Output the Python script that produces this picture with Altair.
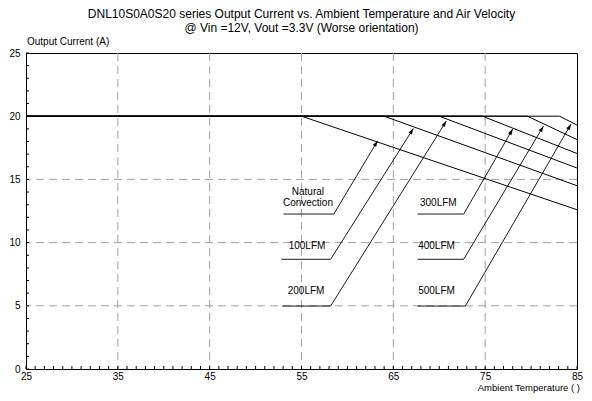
import math
import altair as alt
import pandas as pd

# ---------------- data ----------------
series = ["Natural Convection", "100LFM", "200LFM", "300LFM", "400LFM", "500LFM"]
derate_start = [55.0, 64.0, 70.0, 74.7, 79.6, 83.1]      # temperature where derating starts
current_at_85 = [12.6, 14.5, 15.9, 17.05, 18.15, 19.3]   # output current at 85 C
max_current = 20.0
t_min, t_max = 25, 85
i_min, i_max = 0, 25

# annotation labels and leader lines
label_text = ["Natural", "Convection", "100LFM", "200LFM", "300LFM", "400LFM", "500LFM"]
label_t = [55.7, 55.7, 55.6, 55.5, 69.9, 69.7, 69.7]
label_i = [13.98, 13.11, 9.75, 6.19, 13.16, 9.75, 6.19]
leader_left = [53.05, 52.8, 52.9, 67.64, 67.64, 67.64]
leader_right = [58.52, 58.17, 58.17, 72.66, 72.66, 72.84]
leader_level = [12.26, 8.68, 4.98, 12.26, 8.68, 4.98]
tip_t = [63.28, 67.18, 70.77, 78.0, 81.35, 84.35]
tip_i = [18.04, 19.03, 19.62, 18.99, 19.22, 19.38]

x_labels = [25, 35, 45, 55, 65, 75, 85]
y_labels = [0, 5, 10, 15, 20, 25]
x_grid = [35, 45, 55, 65, 75]
y_grid = [5, 10, 15]
x_minor = list(range(25, 86))
y_minor = list(range(0, 26))

title_lines = ["DNL10S0A0S20 series Output Current vs. Ambient Temperature and Air Velocity",
               "@ Vin =12V, Vout =3.3V (Worse orientation)"]
y_title = "Output Current (A)"
x_title = "Ambient Temperature (   )"

# ---------------- layout ----------------
W, H = 551, 316
FONT = "Liberation Sans"

# ---------------- tables ----------------
curve_rows = []
for s, ts, ie in zip(series, derate_start, current_at_85):
    curve_rows += [
        {"series": s, "k": 0, "T": t_min, "I": max_current},
        {"series": s, "k": 1, "T": ts, "I": max_current},
        {"series": s, "k": 2, "T": t_max, "I": ie},
    ]
curves = pd.DataFrame(curve_rows)

leader_rows, head_rows = [], []
px_t = W / (t_max - t_min)
px_i = H / (i_max - i_min)
for s, l, r, lv, tt, ti in zip(series, leader_left, leader_right, leader_level, tip_t, tip_i):
    leader_rows += [
        {"series": s, "k": 0, "T": l, "I": lv},
        {"series": s, "k": 1, "T": r, "I": lv},
        {"series": s, "k": 2, "T": tt, "I": ti},
    ]
    dx = (tt - r) * px_t
    dy = (ti - lv) * px_i
    ang = math.degrees(math.atan2(dx, dy)) % 360
    head_rows.append({"series": s, "T": tt, "I": ti, "angle": ang})
leaders = pd.DataFrame(leader_rows)
heads = pd.DataFrame(head_rows)
labels = pd.DataFrame({"text": label_text, "T": label_t, "I": label_i})

xs = alt.Scale(domain=[t_min, t_max], nice=False, zero=False)
ys = alt.Scale(domain=[i_min, i_max], nice=False, zero=False)
X = alt.X("T:Q", scale=xs, title=None,
          axis=alt.Axis(values=x_labels, labelPadding=2, format="d", labelFlush=False))
Y = alt.Y("I:Q", scale=ys, title=None,
          axis=alt.Axis(values=y_labels, labelPadding=6, format="d", labelFlush=False))

grid_x = alt.Chart(pd.DataFrame({"T": x_grid})).mark_rule(
    color="#a0a0a0", strokeDash=[8, 5], strokeWidth=1).encode(x=X)
grid_y = alt.Chart(pd.DataFrame({"I": y_grid})).mark_rule(
    color="#a0a0a0", strokeDash=[8, 5], strokeWidth=1).encode(y=Y)

ticks_x = alt.Chart(pd.DataFrame({"T": x_minor})).mark_rule(
    color="black", strokeWidth=1).encode(x="T:Q", y=alt.value(H), y2=alt.value(H - 3))
ticks_y = alt.Chart(pd.DataFrame({"I": y_minor})).mark_rule(
    color="black", strokeWidth=1).encode(y="I:Q", x=alt.value(0), x2=alt.value(3))

curve_layer = alt.Chart(curves).mark_line(color="black", strokeWidth=1).encode(
    x="T:Q", y="I:Q", detail="series:N", order="k:Q")
leader_layer = alt.Chart(leaders).mark_line(color="black", strokeWidth=0.9).encode(
    x="T:Q", y="I:Q", detail="series:N", order="k:Q")
head_layer = alt.Chart(heads).mark_point(
    shape="M0,0L-0.65,2L0.65,2Z", filled=True, size=36, color="black", opacity=1, strokeWidth=0
).encode(x="T:Q", y="I:Q", angle=alt.Angle("angle:Q", scale=None))
label_layer = alt.Chart(labels).mark_text(
    font=FONT, fontSize=10, color="black", align="center", baseline="middle"
).encode(x="T:Q", y="I:Q", text="text:N")

title_df = pd.DataFrame({"text": title_lines, "py": [-39, -25]})
title_layer = alt.Chart(title_df).mark_text(
    font=FONT, fontSize=12, color="black", align="center", baseline="middle"
).encode(x=alt.value(W / 2), y=alt.Y("py:Q", scale=None), text="text:N")
ytitle_layer = alt.Chart(pd.DataFrame({"text": [y_title]})).mark_text(
    font=FONT, fontSize=10, color="black", align="left", baseline="middle"
).encode(x=alt.value(1), y=alt.value(-11), text="text:N")
xtitle_layer = alt.Chart(pd.DataFrame({"text": [x_title]})).mark_text(
    font=FONT, fontSize=9.5, color="black", align="right", baseline="middle"
).encode(x=alt.value(W + 3), y=alt.value(H + 18.5), text="text:N")

chart = alt.layer(
    grid_x, grid_y, curve_layer, leader_layer, head_layer, label_layer,
    ticks_x, ticks_y, title_layer, ytitle_layer, xtitle_layer,
).properties(
    width=W, height=H,
    autosize=alt.AutoSizeParams(type="none"),
    padding={"left": 18, "top": 45, "right": 7, "bottom": 24},
).configure_axis(
    grid=False, ticks=False, domainColor="black", domainWidth=1,
    labelFont=FONT, labelFontSize=10, labelColor="black",
).configure_view(stroke="black", strokeWidth=1)

chart.save("out.html", embed_options={"renderer": "svg", "actions": False})
